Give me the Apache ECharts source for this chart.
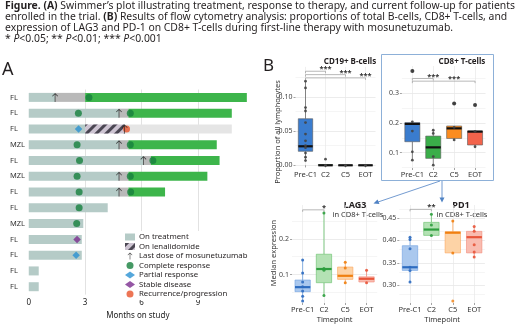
<!DOCTYPE html>
<html>
<head>
<meta charset="utf-8">
<script src="https://cdn.jsdelivr.net/npm/echarts@6/dist/echarts.min.js"></script>
<style>
html,body{margin:0;padding:0;background:#fff;}
#chart{width:520px;height:325px;}
</style>
</head>
<body>
<div id="chart"></div>
<script>
var FONT = 'Noto Sans';

// ---- panel A: swimmer plot, one row per patient (top to bottom), months
var diagnosis = ['FL','FL','FL','MZL','FL','MZL','FL','FL','MZL','FL','FL','FL','FL'];
var onTreatment = [1.4,4.8,3.0,4.8,6.1,4.8,4.8,4.2,2.9,2.82,2.82,0.53,0.53];
var offTreatment = [1.6,0.5,0,0.5,0.4,0.5,0.5,0,0,0,0,0,0];
var onLenalidomide = [0,0,2.1,0,0,0,0,0,0,0,0,0,0];
var inResponse = [8.6,5.5,0,4.7,3.65,4.2,1.95,0,0,0,0,0,0];
var followUp = [0,0,5.7,0,0,0,0,0,0,0,0,0,0];
// events: [month, row]
var lastDose = [[1.4,0],[4.8,1],[5.1,2],[4.8,3],[6.1,4],[4.8,5],[4.8,6]];
var completeResp = [[3.2,0],[2.64,1],[5.4,1],[2.57,3],[5.4,3],[2.7,4],[6.6,4],[2.57,5],[5.4,5],[2.68,6],[5.42,6],[2.68,7],[2.55,8]];
var partialResp = [[2.65,2],[2.52,10]];
var stableDis = [[2.57,9]];
var progression = [[5.2,2]];
var monthTicks = [0,1,2,3,4,5,6,7,8,9,10,11];
var monthLabels = [0,3,6,9];

// ---- panel B: box stats [min, q1, median, q3, max] per timepoint, points [timepoint, value]
var timepoints = ['Pre-C1','C2','C5','EOT'];

var cd19Box = [[0.007,0.0206,0.028,0.0686,0.124],[0,0,0,0.001,0.001],[0,0,0,0,0.001],[0,0,0,0,0.001]];
var cd19Pts = [[0,0.124],[0,0.114],[0,0.085],[0,0.080],[0,0.063],[0,0.046],[0,0.036],[0,0.029],[0,0.026],[0,0.018],[0,0.012],[0,0.007],[1,0.009],[1,0],[1,0],[2,0],[2,0],[3,0],[3,0]];
var cd19Ticks = [0,0.05,0.10];
var cd19Sig = [[0,1,0.1386,0.5,'***'],[0,2,0.1336,1.5,'***'],[0,3,0.1288,2.5,'***']];

var cd8Box = [[0.075,0.137,0.197,0.201,0.204],[0.058,0.081,0.118,0.156,0.176],[0.143,0.148,0.182,0.19,0.19],[0.118,0.126,0.171,0.173,0.173]];
var cd8Pts = [[0,0.204],[0,0.173],[0,0.103],[0,0.075],[1,0.176],[1,0.165],[1,0.087],[1,0.058],[2,0.143],[2,0.185],[3,0.12],[3,0.172]];
var cd8Out = [[0,0.375],[2,0.266],[3,0.261]];
var cd8Ticks = [0.1,0.2,0.3];
var cd8Sig = [[0,1,0.35,0.5,'***'],[0,3,0.341,2.45,'***']];

var lag3Box = [[0.0255,0.0518,0.0645,0.0845,0.141],[0.041,0.077,0.1155,0.157,0.273],[0.077,0.0864,0.0964,0.121,0.1345],[0.0755,0.079,0.088,0.0936,0.112]];
var lag3Pts = [[0,0.141],[0,0.1045],[0,0.079],[0,0.0655],[0,0.0536],[0,0.039],[0,0.0255],[1,0.273],[1,0.117],[1,0.112],[1,0.041],[2,0.1345],[2,0.118],[2,0.077],[3,0.112],[3,0.077]];
var lag3Ticks = [0.1,0.2];
var lag3Sig = [[0,1,0.2817,0.5,'*']];

var pd1Box = [[0.307,0.333,0.340,0.388,0.407],[0.411,0.411,0.424,0.44,0.458],[0.372,0.372,0.417,0.419,0.443],[0.363,0.372,0.407,0.42,0.431]];
var pd1Pts = [[0,0.407],[0,0.402],[0,0.381],[0,0.34],[0,0.333],[0,0.307],[1,0.458],[1,0.434],[1,0.411],[2,0.443],[2,0.372],[3,0.431],[3,0.42],[3,0.39],[3,0.374],[3,0.363]];
var pd1Out = [[2,0.265]];
var pd1Ticks = [0.30,0.35,0.40,0.45];
var pd1Sig = [[0,1,0.469,0.5,'**']];

var solidCol = ['#3a7cce','#3aae49','#fb8c1f','#f2634b'];
var lightFill = ['#aac8ee','#b4e2b4','#fdd3a6','#f9bcb0'];
var lightEdge = ['#6d9fe0','#66c06a','#fba55a','#f28a78'];
var darkCol = ['#2d6cc0','#2e9e3e','#f07f10','#e8553a'];

function boxRender(solid) {
  return function (params, api) {
    var i = api.value(0);
    var pMin = api.coord([i, api.value(1)]);
    var pQ1 = api.coord([i, api.value(2)]);
    var pMed = api.coord([i, api.value(3)]);
    var pQ3 = api.coord([i, api.value(4)]);
    var pMax = api.coord([i, api.value(5)]);
    var w = api.size([1, 0])[0] * 0.72;
    var x = pMed[0];
    var whisk = solid ? '#666' : lightEdge[i];
    return {type: 'group', children: [
      {type: 'line', shape: {x1: x, y1: pMin[1], x2: x, y2: pQ1[1]}, style: {stroke: whisk, lineWidth: 0.8}},
      {type: 'line', shape: {x1: x, y1: pQ3[1], x2: x, y2: pMax[1]}, style: {stroke: whisk, lineWidth: 0.8}},
      {type: 'rect', shape: {x: x - w / 2, y: pQ3[1], width: w, height: pQ1[1] - pQ3[1]},
        style: {fill: solid ? solidCol[i] : lightFill[i], stroke: solid ? '#5a5a5a' : lightEdge[i], lineWidth: 0.6}},
      {type: 'line', shape: {x1: x - w / 2, y1: pMed[1], x2: x + w / 2, y2: pMed[1]},
        style: {stroke: solid ? '#111' : darkCol[i], lineWidth: 2.2}}
    ]};
  };
}

function sigRender(sig) {
  return function (params, api) {
    var s = sig[params.dataIndex];
    var a = api.coord([s[0], s[2]]);
    var b = api.coord([s[1], s[2]]);
    var t = api.coord([s[3], s[2]]);
    return {type: 'group', children: [
      {type: 'polyline', shape: {points: [[a[0], a[1] + 2], [a[0], a[1]], [b[0], b[1]], [b[0], b[1] + 2]]},
        style: {stroke: '#999', lineWidth: 0.7, fill: null}},
      {type: 'text', x: t[0], y: a[1] + 2, style: {text: s[4], fill: '#333', fontSize: 7.5, fontWeight: 'bold',
        fontFamily: FONT, align: 'center', verticalAlign: 'bottom'}}
    ]};
  };
}

function gridLines(ticks, min, max) {
  var step = ticks[1] - ticks[0];
  var out = [];
  ticks.forEach(function (v) { out.push({yAxis: v, lineStyle: {color: '#e4e4e4'}}); });
  for (var v = ticks[0] - step / 2; v <= max; v += step) {
    if (v >= min) out.push({yAxis: v, lineStyle: {color: '#f1f1f1'}});
  }
  timepoints.forEach(function (t) { out.push({xAxis: t, lineStyle: {color: '#e8e8e8'}}); });
  return out;
}

function bx(g, name) {
  return {type: 'category', gridIndex: g, data: timepoints,
    axisLine: {show: false},
    axisTick: {show: true, alignWithLabel: true, interval: 0, length: 2, lineStyle: {color: '#666', width: 0.6}},
    axisLabel: {interval: 0, hideOverlap: false, fontFamily: FONT, fontSize: 7.5, color: '#333', margin: 3},
    splitLine: {show: false},
    name: name || '', nameLocation: 'middle', nameGap: 13,
    nameTextStyle: {fontFamily: FONT, fontSize: 7.5, color: '#333'}};
}

function by(g, min, max, ticks, digits) {
  return {type: 'value', gridIndex: g, min: min, max: max,
    axisLine: {show: false},
    axisTick: {show: true, customValues: ticks, length: 2, lineStyle: {color: '#666', width: 0.6}},
    axisLabel: {customValues: ticks, formatter: function (v) { return v.toFixed(digits); },
      fontFamily: FONT, fontSize: 7, color: '#444', margin: 3},
    splitLine: {show: false}};
}

function boxPanel(g, boxes, pts, outs, sig, ticks, min, max, solid) {
  var list = [];
  list.push({type: 'custom', xAxisIndex: g, yAxisIndex: g, z: 3,
    data: boxes.map(function (b, i) { return [i].concat(b); }),
    encode: {x: 0, y: [1, 2, 3, 4, 5]},
    renderItem: boxRender(solid),
    markLine: {silent: true, symbol: ['none', 'none'], z: 0, label: {show: false},
      lineStyle: {width: 0.7, type: 'solid'}, data: gridLines(ticks, min, max)}});
  list.push({type: 'scatter', xAxisIndex: g, yAxisIndex: g, z: 4, data: pts,
    symbolSize: solid ? 2.8 : 3,
    itemStyle: {opacity: 0.9, color: function (p) { return solid ? '#444' : darkCol[p.value[0]]; }}});
  if (outs) {
    list.push({type: 'scatter', xAxisIndex: g, yAxisIndex: g, z: 4, data: outs,
      symbolSize: solid ? 4 : 3,
      itemStyle: {color: function (p) { return solid ? '#111' : darkCol[p.value[0]]; }}});
  }
  list.push({type: 'custom', xAxisIndex: g, yAxisIndex: g, z: 4,
    data: sig.map(function (s) { return [s[0], s[2]]; }),
    encode: {x: 0, y: 1},
    renderItem: sigRender(sig)});
  return list;
}

var arrowPath = 'path://M5,0 L9.5,4.5 L8.7,5.3 L5.6,2.2 L5.6,13 L4.4,13 L4.4,2.2 L1.3,5.3 L0.5,4.5 Z';
var bar = {type: 'bar', stack: 'sw', barWidth: 9, xAxisIndex: 0, yAxisIndex: 0, z: 2, silent: true};

var series = [
  Object.assign({}, bar, {name: 'On treatment', data: onTreatment, itemStyle: {color: '#b5cbc7'}}),
  Object.assign({}, bar, {name: 'Off mosunetuzumab', data: offTreatment, itemStyle: {color: '#b9b9b9'}}),
  Object.assign({}, bar, {name: 'On lenalidomide', data: onLenalidomide,
    itemStyle: {color: '#cdc4d2', decal: {symbol: 'rect', dashArrayX: [1, 0], dashArrayY: [2.2, 3.6],
      rotation: -Math.PI / 4, color: '#4a4652'}}}),
  Object.assign({}, bar, {name: 'In response', data: inResponse, itemStyle: {color: '#3db54b'}}),
  Object.assign({}, bar, {name: 'Follow-up', data: followUp, itemStyle: {color: '#e5e5e5'}, z: 1,
    markLine: {silent: true, symbol: ['none', 'none'], z: 0, label: {show: false},
      lineStyle: {color: '#e2e2e2', width: 1, type: 'solid'},
      data: [{xAxis: 3}, {xAxis: 6}, {xAxis: 9}]}}),
  {name: 'Complete response', type: 'scatter', xAxisIndex: 0, yAxisIndex: 0, z: 5, symbol: 'circle', symbolSize: 7,
    data: completeResp, itemStyle: {color: '#17803d'}},
  {name: 'Partial response', type: 'scatter', xAxisIndex: 0, yAxisIndex: 0, z: 5, symbol: 'diamond', symbolSize: 7.5,
    data: partialResp, itemStyle: {color: '#2b91d2'}},
  {name: 'Stable disease', type: 'scatter', xAxisIndex: 0, yAxisIndex: 0, z: 5, symbol: 'diamond', symbolSize: 7.5,
    data: stableDis, itemStyle: {color: '#7b2d8e'}},
  {name: 'Recurrence/progression', type: 'scatter', xAxisIndex: 0, yAxisIndex: 0, z: 5, symbol: 'circle', symbolSize: 7,
    data: progression, itemStyle: {color: '#e8532b'}},
  {name: 'Last dose of mosunetuzumab', type: 'scatter', xAxisIndex: 0, yAxisIndex: 0, z: 6, symbol: arrowPath,
    symbolSize: [6, 9], data: lastDose, itemStyle: {color: '#222'}}
];

series = series
  .concat(boxPanel(1, cd19Box, cd19Pts, null, cd19Sig, cd19Ticks, -0.004, 0.145, true))
  .concat(boxPanel(2, cd8Box, cd8Pts, cd8Out, cd8Sig, cd8Ticks, 0.0485, 0.392, true))
  .concat(boxPanel(3, lag3Box, lag3Pts, null, lag3Sig, lag3Ticks, 0.02, 0.295, false))
  .concat(boxPanel(4, pd1Box, pd1Pts, pd1Out, pd1Sig, pd1Ticks, 0.2604, 0.4787, false));

var txt = {fontFamily: FONT, fontSize: 10.4, lineHeight: 11, color: '#231f20'};

var option = {
  animation: false,
  backgroundColor: '#fff',
  textStyle: {fontFamily: FONT},
  title: {
    left: 5, top: 1, padding: 0,
    text: '{b|Figure.} {b|(A)} Swimmer\u2019s plot illustrating treatment, response to therapy, and current follow-up for patients\n' +
      'enrolled in the trial. {b|(B)} Results of flow cytometry analysis: proportions of total B-cells, CD8+ T-cells, and\n' +
      'expression of LAG3 and PD-1 on CD8+ T-cells during first-line therapy with mosunetuzumab.\n' +
      '* {i|P}<0.05; ** {i|P}<0.01; *** {i|P}<0.001',
    textStyle: Object.assign({fontWeight: 'normal', rich: {
      b: Object.assign({fontWeight: 'bold'}, txt),
      i: Object.assign({fontStyle: 'italic'}, txt)
    }}, txt)
  },
  legend: {
    orient: 'vertical', left: 121, top: 231, padding: [2, 4, 2, 4],
    backgroundColor: '#fff', itemWidth: 10, itemHeight: 7, itemGap: 1.5, selectedMode: false, z: 10,
    textStyle: {fontFamily: FONT, fontSize: 7.8, color: '#231f20', padding: [0, 0, 0, -1]},
    data: [
      {name: 'On treatment', icon: 'rect'},
      {name: 'On lenalidomide', icon: 'rect'},
      'Last dose of mosunetuzumab', 'Complete response', 'Partial response', 'Stable disease', 'Recurrence/progression'
    ]
  },
  grid: [
    {left: 25, top: 89.5, width: 225.6, height: 212.3},
    {left: 295.5, top: 66.9, width: 80, height: 101.1},
    {left: 401.9, top: 66, width: 83.6, height: 102},
    {left: 292, top: 205.1, width: 85.2, height: 101},
    {left: 399.3, top: 205, width: 85.6, height: 101}
  ],
  xAxis: [
    {type: 'value', gridIndex: 0, min: -0.2, max: 11.8, offset: 2.5,
      axisLine: {lineStyle: {color: '#444', width: 0.8}},
      axisTick: {customValues: monthTicks, length: 3, lineStyle: {color: '#444', width: 0.8}},
      axisLabel: {customValues: monthLabels, fontFamily: FONT, fontSize: 8, color: '#222', margin: 2},
      splitLine: {show: false},
      name: 'Months on study', nameLocation: 'middle', nameGap: 13,
      nameTextStyle: {fontFamily: FONT, fontSize: 8, color: '#222'}},
    bx(1), bx(2), bx(3, 'Timepoint'), bx(4, 'Timepoint')
  ],
  yAxis: [
    {type: 'category', gridIndex: 0, data: diagnosis, inverse: true,
      axisLine: {show: false}, axisTick: {show: false},
      axisLabel: {fontFamily: FONT, fontSize: 7.5, color: '#333', align: 'left', margin: 15}},
    by(1, -0.004, 0.145, cd19Ticks, 2),
    by(2, 0.0485, 0.392, cd8Ticks, 1),
    by(3, 0.02, 0.295, lag3Ticks, 1),
    by(4, 0.2604, 0.4787, pd1Ticks, 2)
  ],
  graphic: [
    {type: 'text', x: 2, y: 61, style: {text: 'A', fontFamily: FONT, fontSize: 18, fill: '#231f20'}},
    {type: 'text', x: 263, y: 58, style: {text: 'B', fontFamily: FONT, fontSize: 17, fill: '#231f20'}},
    {type: 'rect', shape: {x: 381.5, y: 54.5, width: 112, height: 126}, style: {fill: null, stroke: '#8db0d8', lineWidth: 1}},
    {type: 'text', x: 350, y: 62, style: {text: 'CD19+ B-cells', fontFamily: FONT, fontSize: 8, fontWeight: 'bold', fill: '#231f20', align: 'center', verticalAlign: 'middle'}},
    {type: 'text', x: 462, y: 62, style: {text: 'CD8+ T-cells', fontFamily: FONT, fontSize: 8, fontWeight: 'bold', fill: '#231f20', align: 'center', verticalAlign: 'middle'}},
    {type: 'text', x: 355, y: 205, style: {text: 'LAG3', fontFamily: FONT, fontSize: 9, fontWeight: 'bold', fill: '#231f20', align: 'center', verticalAlign: 'middle'}},
    {type: 'text', x: 358, y: 214.5, style: {text: 'in CD8+ T-cells', fontFamily: FONT, fontSize: 7.5, fill: '#333', align: 'center', verticalAlign: 'middle'}},
    {type: 'text', x: 461, y: 205, style: {text: 'PD1', fontFamily: FONT, fontSize: 9, fontWeight: 'bold', fill: '#231f20', align: 'center', verticalAlign: 'middle'}},
    {type: 'text', x: 462, y: 214.5, style: {text: 'in CD8+ T-cells', fontFamily: FONT, fontSize: 7.5, fill: '#333', align: 'center', verticalAlign: 'middle'}},
    {type: 'text', x: 278, y: 132, rotation: Math.PI / 2, style: {text: 'Proportion of all lymphocytes', fontFamily: FONT, fontSize: 7.5, fill: '#333', align: 'center', verticalAlign: 'middle'}},
    {type: 'text', x: 274, y: 253, rotation: Math.PI / 2, style: {text: 'Median expression', fontFamily: FONT, fontSize: 7.5, fill: '#333', align: 'center', verticalAlign: 'middle'}},
    {type: 'line', shape: {x1: 440, y1: 181, x2: 378, y2: 202}, style: {stroke: '#4f82c4', lineWidth: 0.8}},
    {type: 'polygon', shape: {points: [[373.5, 203.5], [377.5, 199.5], [379.5, 204]]}, style: {fill: '#4f82c4'}},
    {type: 'line', shape: {x1: 442, y1: 181, x2: 442, y2: 198}, style: {stroke: '#4f82c4', lineWidth: 0.8}},
    {type: 'polygon', shape: {points: [[439.5, 197.5], [444.5, 197.5], [442, 202.5]]}, style: {fill: '#4f82c4'}}
  ],
  series: series
};

var myChart = echarts.init(document.getElementById('chart'));
myChart.setOption(option);
</script>
</body>
</html>
